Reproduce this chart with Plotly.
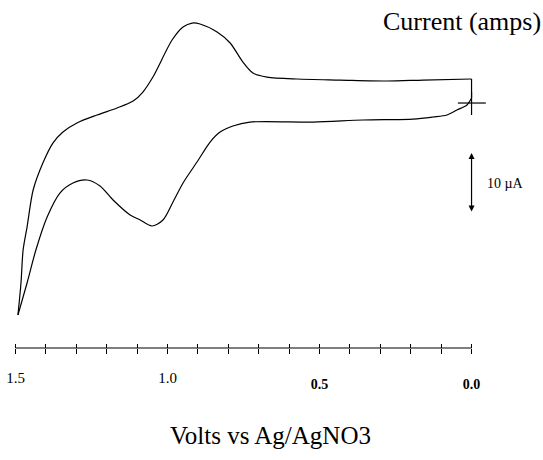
import plotly.graph_objects as go

# Cyclic voltammogram, potential in V vs Ag/AgNO3, current in microamps
# Forward (anodic) sweep 0.0 -> 1.5 V
fwd_volts = [0.000, 0.015, 0.048, 0.081, 0.127, 0.192, 0.357, 0.521, 0.729, 0.785,
             0.827, 0.860, 0.903, 0.949, 0.982, 1.015, 1.051, 1.090, 1.123, 1.179,
             1.222, 1.265, 1.311, 1.354, 1.396, 1.433, 1.462, 1.492]
fwd_current = [0.83, -0.33, -1.17, -2.00, -2.33, -2.67, -2.83, -3.17, -3.17, -3.83,
               -4.83, -6.50, -9.83, -13.33, -16.50, -19.50, -20.50, -19.50, -18.67, -16.17,
               -13.83, -12.83, -13.33, -15.00, -19.00, -24.50, -30.00, -35.33]

# Reverse (cathodic) sweep 1.5 -> 0.0 V
rev_volts = [1.492, 1.482, 1.475, 1.462, 1.442, 1.410, 1.377, 1.344, 1.298, 1.232,
             1.166, 1.113, 1.081, 1.048, 0.985, 0.949, 0.919, 0.893, 0.837, 0.794,
             0.752, 0.719, 0.673, 0.574, 0.433, 0.278, 0.159, 0.000]
rev_current = [-35.33, -30.00, -24.50, -20.67, -14.50, -10.00, -6.67, -4.83, -3.33, -2.00,
               -0.83, 0.33, 1.83, 4.33, 10.50, 12.67, 13.33, 13.17, 11.83, 10.00,
               6.83, 5.00, 4.33, 4.00, 3.83, 3.67, 3.83, 4.00]

tick_volts = [1.5, 1.4, 1.3, 1.2, 1.1, 1.0, 0.9, 0.8, 0.7, 0.6, 0.5, 0.4, 0.3, 0.2, 0.1, 0.0]
labels_upper = {1.5: "1.5", 1.0: "1.0"}
labels_lower = {0.5: "0.5", 0.0: "0.0"}

scale_bar_uA = 10
scale_bar_top = -8.33

SERIF = "Liberation Serif, Times New Roman, serif"
x_range = [1.551, -0.235]
y_range = [-40.83, 17.17]

line_style = dict(color="black", width=1.2)

fig = go.Figure()
fig.add_trace(go.Scatter(x=fwd_volts, y=fwd_current, mode="lines",
                         line=dict(shape="spline", smoothing=0.8, **line_style),
                         hoverinfo="skip", showlegend=False))
fig.add_trace(go.Scatter(x=rev_volts, y=rev_current, mode="lines", xaxis="x2",
                         line=dict(shape="spline", smoothing=0.8, **line_style),
                         hoverinfo="skip", showlegend=False))
# close the loop at the switching potential 0.0 V
fig.add_trace(go.Scatter(x=[rev_volts[-1], fwd_volts[0]], y=[rev_current[-1], fwd_current[0]],
                         mode="lines", line=line_style, hoverinfo="skip", showlegend=False))

fig.update_layout(
    width=543, height=460,
    margin=dict(l=0, r=0, t=0, b=112),
    paper_bgcolor="white", plot_bgcolor="white",
    xaxis=dict(range=x_range, showgrid=False, zeroline=False, showline=False,
               tickmode="array", tickvals=tick_volts,
               ticktext=[labels_upper.get(v, "") for v in tick_volts],
               ticks="outside", ticklen=5, tickwidth=1, tickcolor="black",
               ticklabelstandoff=11,
               tickfont=dict(family=SERIF, size=15, color="black")),
    xaxis2=dict(range=x_range, overlaying="x", anchor="y", side="bottom",
                showgrid=False, zeroline=False, showline=False,
                tickmode="array", tickvals=tick_volts,
                ticktext=[labels_lower.get(v, "") for v in tick_volts],
                ticks="inside", ticklen=4, tickwidth=1, tickcolor="black",
                ticklabelstandoff=26,
                tickfont=dict(family=SERIF, size=14, color="black", weight="bold")),
    yaxis=dict(range=y_range, visible=False),
    shapes=[
        # potential axis baseline
        dict(type="line", xref="x", yref="paper", x0=tick_volts[0], x1=tick_volts[-1],
             y0=0, y1=0, line=dict(color="black", width=1)),
        # zero-current crosshair
        dict(type="line", xref="x", yref="y", x0=0.045, x1=-0.047, y0=0, y1=0,
             line=dict(color="black", width=1.2)),
        dict(type="line", xref="x", yref="y", x0=0.0, x1=0.0, y0=1.8, y1=-2.0,
             line=dict(color="black", width=1.2)),
    ],
    annotations=[
        dict(text="Current (amps)", xref="paper", yref="paper", x=1.0, y=0.937,
             xanchor="right", yanchor="middle", showarrow=False,
             font=dict(family=SERIF, size=26, color="black")),
        dict(text="Volts vs Ag/AgNO3", xref="paper", yref="paper", x=0.499, y=-0.25,
             xanchor="center", yanchor="middle", showarrow=False,
             font=dict(family=SERIF, size=25, color="black")),
        # current scale bar
        dict(text="", xref="x", yref="y", axref="x", ayref="y",
             x=0.0, y=scale_bar_top, ax=0.0, ay=scale_bar_top - scale_bar_uA,
             showarrow=True, arrowside="end+start", arrowhead=2, startarrowhead=2,
             arrowsize=1, startarrowsize=1, arrowwidth=1.2, arrowcolor="black",
             standoff=0, startstandoff=0),
        dict(text=f"{scale_bar_uA} µA", xref="x", yref="y",
             x=-0.110, y=scale_bar_top - scale_bar_uA / 2,
             xanchor="center", yanchor="middle", showarrow=False,
             font=dict(family=SERIF, size=14, color="black")),
    ],
)

fig.write_html("out.html")
